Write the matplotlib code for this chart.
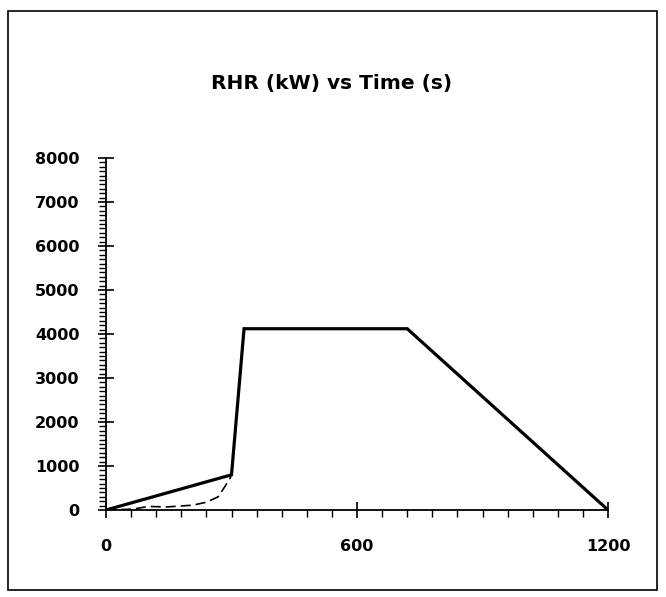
import matplotlib
matplotlib.use("Agg")
import matplotlib.pyplot as plt
from matplotlib.patches import Rectangle
from matplotlib.ticker import MultipleLocator

# Data
design_t = [0, 300, 330, 720, 1200]
design_q = [0, 800, 4120, 4120, 0]

growth_t = [0, 65, 100, 146, 208, 241, 268, 284, 297, 300]
growth_q = [0, 20, 80, 70, 110, 180, 300, 530, 730, 800]

x_ticks = [0, 600, 1200]
y_ticks = [0, 1000, 2000, 3000, 4000, 5000, 6000, 7000, 8000]
title = "RHR (kW) vs Time (s)"

plt.rcParams['font.family'] = ['DejaVu Sans']

fig = plt.figure(figsize=(6.66, 5.97), dpi=100)
ax = fig.add_axes([106/666, 1-510/597, (608-106)/666, (510-158)/597])

ax.plot(design_t, design_q, color='black', lw=2.3, solid_joinstyle='miter')
ax.plot(growth_t, growth_q, color='black', lw=1.2, ls=(0, (6, 3)))

ax.set_xlim(0, 1200)
ax.set_ylim(0, 8000)
ax.set_xticks(x_ticks)
ax.set_yticks(y_ticks)
ax.xaxis.set_minor_locator(MultipleLocator(60))
ax.yaxis.set_minor_locator(MultipleLocator(100))

for s in ['top', 'right']:
    ax.spines[s].set_visible(False)
for s in ['left', 'bottom']:
    ax.spines[s].set_linewidth(1.3)

ax.tick_params(axis='y', which='major', direction='inout', length=12, width=1.2, pad=13, labelsize=11.5)
ax.tick_params(axis='y', which='minor', direction='out', length=5, width=1.0)
ax.tick_params(axis='x', which='major', direction='inout', length=12, width=1.2, pad=15, labelsize=11.5)
ax.tick_params(axis='x', which='minor', direction='out', length=5, width=1.0)
for lbl in ax.get_xticklabels() + ax.get_yticklabels():
    lbl.set_fontweight('bold')

fig.text(332/666, 1-84/597, title, ha='center', va='center', fontsize=14.5, fontweight='bold')

fig.patches.append(Rectangle((8/666, 1-590/597), (657-8)/666, (590-11)/597,
                             transform=fig.transFigure, fill=False, edgecolor='black', lw=1.2))

fig.savefig('out.png', dpi=100)
